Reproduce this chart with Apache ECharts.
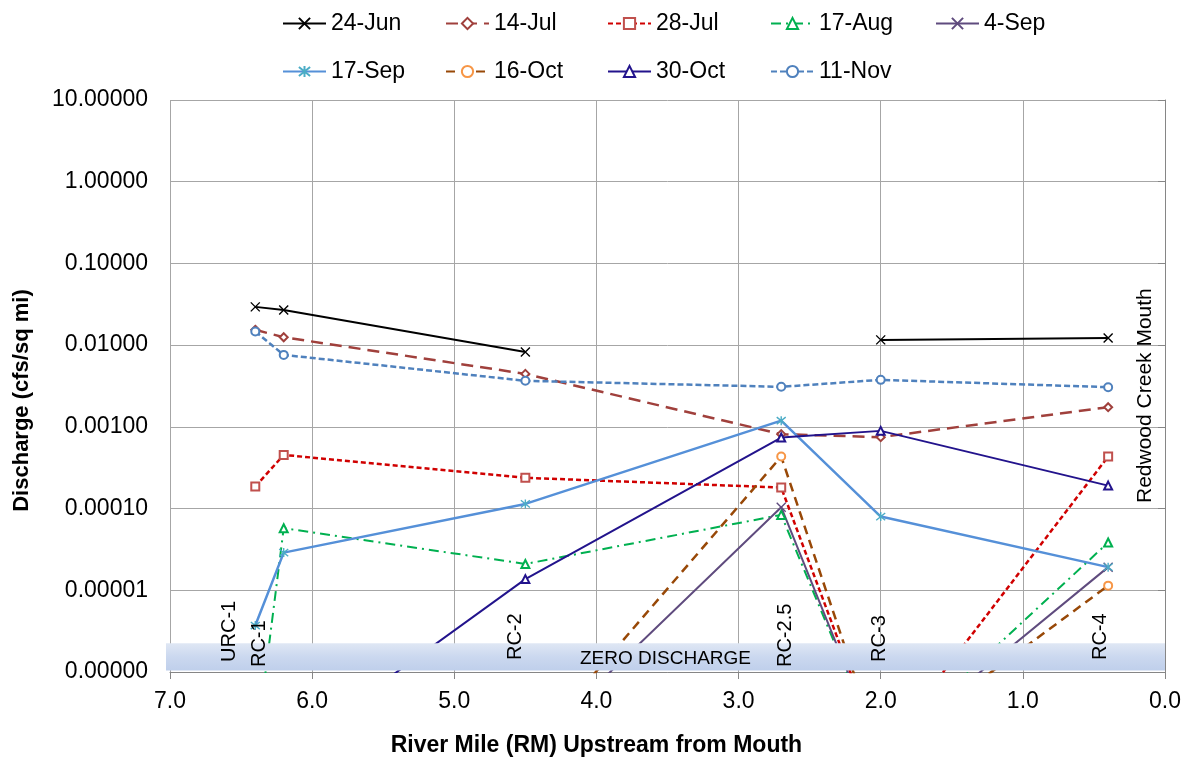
<!DOCTYPE html>
<html>
<head>
<meta charset="utf-8">
<script src="https://cdn.jsdelivr.net/npm/echarts@6/dist/echarts.min.js"></script>
<style>
  html, body { margin: 0; padding: 0; background: #ffffff; }
  #chart { width: 1186px; height: 759px; }
</style>
</head>
<body>
<div id="chart"></div>
<script>
// ---- data ----
const sites = ['URC-1', 'RC-1', 'RC-2', 'RC-2.5', 'RC-3', 'RC-4'];
const riverMile = [6.4, 6.2, 4.5, 2.7, 2.0, 0.4];
const dates = ['24-Jun', '14-Jul', '28-Jul', '17-Aug', '4-Sep', '17-Sep', '16-Oct', '30-Oct', '11-Nov'];
// discharge (cfs/sq mi) per site; 0 = zero discharge, null = not measured
const jun24 = [0.0294, 0.0270, 0.00826, null, 0.0116, 0.0122];
const jul14 = [0.0154, 0.0125, 0.00445, 0.000814, 0.000748, 0.00174];
const jul28 = [0.000186, 0.000454, 0.000238, 0.000181, 0, 0.000433];
const aug17 = [0, 0.0000575, 0.0000210, 0.0000837, 0, 0.0000384];
const sep4  = [0, 0, 0, 0.000104, 0, 0.0000192];
const sep17 = [0.0000037, 0.0000289, 0.000114, 0.00119, 0.0000798, 0.0000192];
const oct16 = [0, 0, 0, 0.000433, 0, 0.0000114];
const oct30 = [0, 0, 0.0000137, 0.00074, 0.000893, 0.000191];
const nov11 = [0.0147, 0.0076, 0.00366, 0.00309, 0.00376, 0.00306];
const seriesValues = [jun24, jul14, jul28, aug17, sep4, sep17, oct16, oct30, nov11];
const xTicks = [7, 6, 5, 4, 3, 2, 1, 0];
const yTicks = [0.000001, 0.00001, 0.0001, 0.001, 0.01, 0.1, 1, 10];
// zero discharge is drawn one decade below the axis floor (as in the original)
const ZERO_FLOOR = 1e-7;

// ---- styles ----
const FONT = "'Liberation Sans', Arial, sans-serif";
const XMARK = 'path://M0 0L10 10M10 0L0 10';
const STAR = 'path://M5 0L5 10M1 1L9 9M9 1L1 9';
const styles = [
  { line: '#000000', mark: '#000000', symbol: XMARK, dash: 'solid', w: 2 },
  { line: '#A0403C', mark: '#A0403C', symbol: 'emptyDiamond', dash: [12, 7], w: 2.5 },
  { line: '#D00000', mark: '#C0504D', symbol: 'emptyRect', dash: [5, 3], w: 2.5 },
  { line: '#00B050', mark: '#00B050', symbol: 'emptyTriangle', dash: [10, 5, 2, 5], w: 2 },
  { line: '#5F4B7E', mark: '#5F4B7E', symbol: XMARK, dash: 'solid', w: 2 },
  { line: '#5590D8', mark: '#4BACC6', symbol: STAR, dash: 'solid', w: 2.5 },
  { line: '#984807', mark: '#F79646', symbol: 'emptyCircle', dash: [9, 6], w: 2.5 },
  { line: '#22138C', mark: '#22138C', symbol: 'emptyTriangle', dash: 'solid', w: 2 },
  { line: '#4F81BD', mark: '#4F81BD', symbol: 'emptyCircle', dash: [6, 3], w: 2.5 }
];

const series = dates.map((name, k) => {
  const st = styles[k];
  return {
    name: name,
    type: 'line',
    clip: true,
    z: 2,
    symbol: st.symbol,
    symbolSize: st.symbol.indexOf('path') === 0 ? 9 : 8,
    data: riverMile.map((rm, i) => {
      const v = seriesValues[k][i];
      return [rm, v === null ? '-' : (v === 0 ? ZERO_FLOOR : v)];
    }),
    lineStyle: { color: st.line, width: st.w, type: st.dash },
    itemStyle: { color: st.mark, borderColor: st.mark, borderWidth: 1.4 },
    emphasis: { disabled: true },
    animation: false
  };
});

const legendCols = [[0, 5], [1, 6], [2, 7], [3, 8], [4]];
const legendLeft = [277, 440, 602, 765, 930];
const legends = legendCols.map((col, c) => ({
  data: col.map(i => dates[i]),
  orient: 'vertical',
  left: legendLeft[c],
  top: 7,
  itemWidth: 43,
  itemHeight: 14,
  itemGap: 25,
  selectedMode: false,
  textStyle: { fontSize: 23, fontFamily: FONT, color: '#000' }
}));

const chart = echarts.init(document.getElementById('chart'), null, { renderer: 'canvas' });
const option = {
  backgroundColor: '#ffffff',
  animation: false,
  legend: legends,
  grid: { left: 170, right: 21, top: 100, bottom: 87, containLabel: false },
  xAxis: {
    type: 'value',
    inverse: true,
    min: 0, max: 7, interval: 1,
    axisLine: { show: true, lineStyle: { color: '#868686', width: 1 } },
    axisTick: { show: true, length: 7, lineStyle: { color: '#868686' } },
    axisLabel: { fontSize: 23, fontFamily: FONT, color: '#000', margin: 18,
      formatter: v => Number(v).toFixed(1) },
    splitLine: { show: true, lineStyle: { color: '#a6a6a6', width: 1 } }
  },
  yAxis: {
    type: 'log',
    logBase: 10,
    min: yTicks[0], max: yTicks[yTicks.length - 1],
    axisLine: { show: true, lineStyle: { color: '#868686', width: 1 } },
    axisTick: { show: true, length: 7, lineStyle: { color: '#868686' } },
    minorTick: { show: false },
    axisLabel: { fontSize: 23, fontFamily: FONT, color: '#000', margin: 22,
      formatter: v => Number(v).toFixed(5) },
    splitLine: { show: true, lineStyle: { color: '#a6a6a6', width: 1 } }
  },
  series: series
};
chart.setOption(option);

// ---- annotations (placed through the chart's own scales) ----
const BAND_TOP = 2.25e-6, BAND_BOTTOM = 1.04e-6;
const siteLabelMile = [6.58, 6.37, 4.57, 2.67, 2.01, 0.455];
const siteLabelBase = [1.33e-6, 1.15e-6, 1.4e-6, 1.15e-6, 1.33e-6, 1.4e-6];
const px = (x, y) => chart.convertToPixel({ xAxisIndex: 0, yAxisIndex: 0 }, [x, y]);
const tl = px(7, BAND_TOP), br = px(0, BAND_BOTTOM);
const Z = 100;
const g = [];
g.push({
  type: 'rect', z: Z, zlevel: 0,
  shape: { x: tl[0] - 4, y: tl[1], width: br[0] - tl[0] + 4, height: br[1] - tl[1] },
  style: {
    fill: new echarts.graphic.LinearGradient(0, 0, 0, 1, [
      { offset: 0, color: '#dfe7f4' }, { offset: 0.5, color: '#cbd8ef' }, { offset: 1, color: '#bfcfeb' }
    ])
  }
});
g.push({
  type: 'text', z: Z + 1, x: (tl[0] - 4 + br[0]) / 2, y: (tl[1] + br[1]) / 2 + 2,
  style: { text: 'ZERO DISCHARGE', font: '19px ' + FONT, fill: '#000', align: 'center', verticalAlign: 'middle' }
});
sites.forEach((s, i) => {
  const p = px(siteLabelMile[i], siteLabelBase[i]);
  g.push({
    type: 'text', z: Z + 2, x: p[0], y: p[1], rotation: Math.PI / 2,
    style: { text: s, font: '20px ' + FONT, fill: '#000', align: 'left', verticalAlign: 'middle' }
  });
});
const mouth = px(0.14, 1.17e-4);
g.push({
  type: 'text', z: Z + 2, x: mouth[0], y: mouth[1], rotation: Math.PI / 2,
  style: { text: 'Redwood Creek Mouth', font: '21px ' + FONT, fill: '#000', align: 'left', verticalAlign: 'middle' }
});
// axis titles
const xt = px(4.0, yTicks[0]);
g.push({
  type: 'text', z: Z, x: xt[0], y: xt[1] + 74,
  style: { text: 'River Mile (RM) Upstream from Mouth', font: 'bold 23px ' + FONT, fill: '#000', align: 'center', verticalAlign: 'middle' }
});
const yt = px(7, 2.1e-3);
g.push({
  type: 'text', z: Z, x: yt[0] - 148, y: yt[1], rotation: Math.PI / 2,
  style: { text: 'Discharge (cfs/sq mi)', font: 'bold 22px ' + FONT, fill: '#000', align: 'center', verticalAlign: 'middle' }
});
chart.setOption({ graphic: { elements: g, z: Z } });
</script>
</body>
</html>
